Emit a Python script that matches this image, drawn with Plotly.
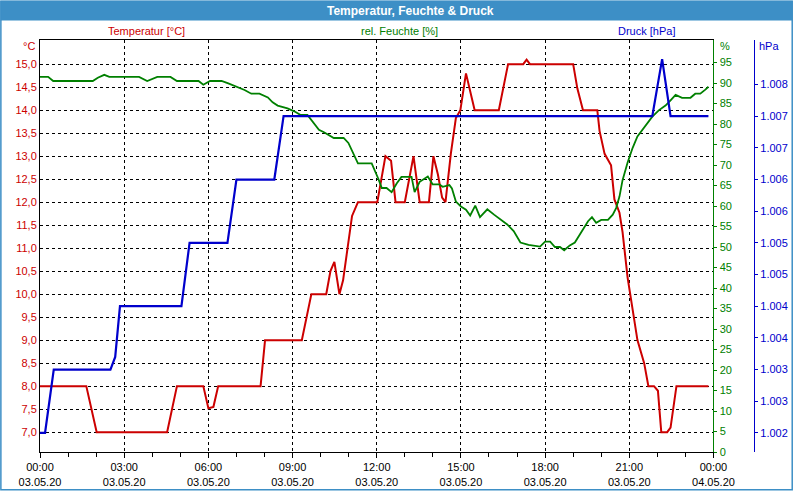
import plotly.graph_objects as go
import pandas as pd

# ---------------- data ----------------
START = "2020-05-03 00:00"

T_HOURS = [0, 1.65, 2.02, 4.53, 4.88, 5.82, 6.0, 6.18, 6.35, 7.86, 8.02, 9.33, 9.67, 10.2,
           10.35, 10.49, 10.67, 10.8, 11.12, 11.33, 12.02, 12.31, 12.51, 12.67, 13.0, 13.31,
           13.53, 13.86, 14.02, 14.18, 14.33, 14.45, 14.64, 14.82, 14.98, 15.18, 15.49, 16.35,
           16.68, 17.22, 17.34, 17.46, 19.0, 19.15, 19.35, 19.86, 19.94, 20.12, 20.35, 20.47,
           20.65, 20.76, 20.94, 21.06, 21.29, 21.53, 21.68, 21.88, 22.02, 22.14, 22.35, 22.47,
           22.68, 23.82]
T_VALUES = [8.0, 8.0, 7.0, 7.0, 8.0, 8.0, 7.52, 7.55, 8.0, 8.0, 9.0, 9.0, 10.0, 10.0,
            10.5, 10.7, 10.0, 10.3, 11.7, 12.0, 12.0, 13.0, 12.9, 12.0, 12.0, 13.0,
            12.0, 12.0, 13.0, 12.6, 12.1, 12.0, 13.05, 13.83, 14.0, 14.8, 14.0, 14.0,
            15.0, 15.0, 15.1, 15.0, 15.0, 14.47, 14.0, 14.0, 13.55, 13.05, 12.8, 12.06,
            11.77, 11.35, 10.36, 9.86, 9.0, 8.5, 8.0, 8.0, 7.9, 7.0, 7.0, 7.1,
            8.0, 8.0]

H_HOURS = [0, 0.29, 0.47, 1.88, 2.06, 2.29, 2.47, 3.53, 3.82, 4.18, 4.65, 4.88, 5.65, 5.82,
           6.06, 6.47, 6.71, 7.0, 7.29, 7.53, 7.82, 8.12, 8.29, 8.47, 8.82, 9.06, 9.29, 9.53,
           9.76, 9.94, 10.12, 10.47, 10.82, 10.99, 11.33, 11.82, 12.06, 12.18, 12.35, 12.53,
           12.71, 12.88, 13.24, 13.35, 13.53, 13.82, 13.99, 14.23, 14.35, 14.59, 14.68, 14.82,
           15.0, 15.18, 15.33, 15.51, 15.68, 15.94, 16.18, 16.41, 16.65, 16.88, 17.12, 17.41,
           17.82, 18.0, 18.18, 18.35, 18.53, 18.68, 18.88, 19.06, 19.24, 19.41, 19.53, 19.67,
           19.82, 20.0, 20.24, 20.41, 20.53, 20.65, 20.76, 20.94, 21.12, 21.29, 21.47, 21.65,
           21.82, 22.06, 22.29, 22.47, 22.65, 22.88, 23.18, 23.35, 23.53, 23.71, 23.82]
H_VALUES = [91.5, 91.5, 90.5, 90.5, 91.3, 92.0, 91.5, 91.5, 90.5, 91.5, 91.5, 90.5, 90.5, 89.6,
            90.5, 90.5, 89.9, 89.1, 88.3, 87.4, 87.4, 86.5, 85.3, 84.5, 83.8, 83.1, 82.2, 82.2,
            80.2, 78.6, 78.0, 76.6, 76.6, 75.4, 70.4, 70.4, 66.6, 64.4, 64.4, 63.4,
            65.5, 67.1, 67.1, 63.4, 65.9, 67.2, 65.3, 65.3, 64.7, 65.1, 64.3, 61.1,
            59.9, 59.1, 57.7, 60.1, 57.3, 59.2, 57.9, 56.7, 55.5, 53.9, 51.1, 50.5,
            50.1, 51.3, 51.3, 50.0, 50.0, 49.2, 50.4, 51.1, 53.1, 55.1, 56.3, 57.3,
            55.9, 56.6, 56.6, 57.9, 59.5, 62.3, 66.3, 70.6, 74.2, 77.0, 78.6, 80.2,
            81.8, 83.4, 84.5, 85.8, 87.1, 86.4, 86.4, 87.4, 87.4, 88.4, 89.1]

P_HOURS = [0, 0.18, 0.49, 2.51, 2.68, 2.85, 5.04, 5.33, 6.68, 7.0, 8.35, 8.68, 21.82, 22.17,
           22.47, 23.82]
P_VALUES = [1002, 1002, 1003, 1003, 1003.2, 1004, 1004, 1005, 1005, 1006, 1006, 1007, 1007,
            1007.9, 1007, 1007]

T_TICKS = [7.0, 7.5, 8.0, 8.5, 9.0, 9.5, 10.0, 10.5, 11.0, 11.5, 12.0, 12.5, 13.0, 13.5,
           14.0, 14.5, 15.0]
H_TICKS = list(range(0, 100, 5))
P_TICKS = [1002.0, 1002.5, 1003.0, 1003.5, 1004.0, 1004.5, 1005.0, 1005.5, 1006.0, 1006.5,
           1007.0, 1007.5]

TITLE = "Temperatur, Feuchte & Druck"
SERIES_NAMES = ["Temperatur [°C]", "rel. Feuchte [%]", "Druck [hPa]"]

# ---------------- styling ----------------
RED = "#cc0000"
GREEN = "#008000"
BLUE = "#0000cc"
BAR = "#3d8fc6"
FONT = "Liberation Sans"

W, H = 800, 500
ML, MR, MT, MB = 40, 30, 40, 39
PW = W - ML - MR          # paper width in px
PH = H - MT - MB          # paper height in px
X_RIGHT_PX = 720
X_DOM = (X_RIGHT_PX - ML) / PW
P_AXIS_PX = 761


def px_x(p):
    return (p - ML) / PW


def px_y(p):
    return (H - MB - p) / PH


t0 = pd.Timestamp(START)


def to_time(hours):
    return [t0 + pd.Timedelta(hours=h) for h in hours]


fig = go.Figure()
fig.add_trace(go.Scatter(x=to_time(H_HOURS), y=H_VALUES, mode="lines", yaxis="y2",
                         line=dict(color=GREEN, width=1.8), name=SERIES_NAMES[1]))
fig.add_trace(go.Scatter(x=to_time(T_HOURS), y=T_VALUES, mode="lines", yaxis="y",
                         line=dict(color=RED, width=2), name=SERIES_NAMES[0]))
fig.add_trace(go.Scatter(x=to_time(P_HOURS), y=P_VALUES, mode="lines", yaxis="y3",
                         line=dict(color=BLUE, width=2.2), name=SERIES_NAMES[2]))

tick_font = dict(family=FONT, size=11)

fig.update_layout(
    width=W, height=H,
    margin=dict(l=ML, r=MR, t=MT, b=MB),
    paper_bgcolor="white", plot_bgcolor="white",
    showlegend=False,
    separators=",.",
    font=dict(family=FONT, size=11, color="black"),
    xaxis=dict(
        domain=[0, X_DOM], type="date",
        range=[t0, t0 + pd.Timedelta(hours=24)],
        dtick=3 * 3600 * 1000, tick0=t0,
        tickformat="%H:%M<br>%d.%m.%y",
        showgrid=True, gridcolor="black", gridwidth=1, griddash="3px,3px",
        showline=True, linecolor="black", linewidth=1, mirror=True,
        ticks="outside", ticklen=5, tickcolor="black",
        minor=dict(dtick=3600 * 1000, ticks="outside", ticklen=4, tickcolor="black",
                   showgrid=False),
        tickfont=dict(family=FONT, size=11, color="black"),
        zeroline=False, fixedrange=True,
    ),
    yaxis=dict(
        range=[7 - 20.3 / 47, 15 + 24.7 / 47],
        tickvals=T_TICKS, tickformat=".1f",
        showgrid=True, gridcolor="black", gridwidth=1, griddash="3px,3px",
        showline=True, linecolor="black", linewidth=1,
        ticks="", tickfont=dict(family=FONT, size=11, color=RED),
        zeroline=False,
    ),
    yaxis2=dict(
        overlaying="y", side="right", anchor="x",
        range=[0, 100.5], tickvals=H_TICKS,
        showgrid=False, showline=True, linecolor=GREEN, linewidth=1,
        ticks="outside", ticklen=3, tickcolor=GREEN,
        tickfont=dict(family=FONT, size=11, color=GREEN),
        zeroline=False,
    ),
    yaxis3=dict(
        overlaying="y", side="right", anchor="free", position=px_x(P_AXIS_PX),
        range=[1002 - 19.5 / 64.73, 1002 + 401.5 / 64.73],
        tickvals=P_TICKS, tickformat=",.0f",
        showgrid=False, showline=True, linecolor=BLUE, linewidth=1,
        ticks="outside", ticklen=3, tickcolor=BLUE,
        tickfont=dict(family=FONT, size=11, color=BLUE),
        zeroline=False,
    ),
)

shapes = [
    # title bar
    dict(type="rect", xref="paper", yref="paper",
         x0=px_x(0), x1=px_x(W), y0=px_y(20), y1=px_y(0),
         fillcolor=BAR, line=dict(width=0), layer="below"),
    # outer border
    dict(type="rect", xref="paper", yref="paper",
         x0=px_x(0.5), x1=px_x(W - 0.5), y0=px_y(H - 0.5), y1=px_y(0.5),
         line=dict(color=BAR, width=1.5), fillcolor="rgba(0,0,0,0)"),
]
fig.update_layout(shapes=shapes)

ann = [
    dict(text="<b>" + TITLE + "</b>", x=px_x(414), y=px_y(10), xref="paper", yref="paper",
         showarrow=False, font=dict(family=FONT, size=12, color="white"),
         xanchor="center", yanchor="middle"),
    dict(text=SERIES_NAMES[0], x=px_x(148), y=px_y(31), xref="paper", yref="paper",
         showarrow=False, font=dict(family=FONT, size=11, color=RED),
         xanchor="center", yanchor="middle"),
    dict(text=SERIES_NAMES[1], x=px_x(403), y=px_y(31), xref="paper", yref="paper",
         showarrow=False, font=dict(family=FONT, size=11, color=GREEN),
         xanchor="center", yanchor="middle"),
    dict(text=SERIES_NAMES[2], x=px_x(652), y=px_y(31), xref="paper", yref="paper",
         showarrow=False, font=dict(family=FONT, size=11, color=BLUE),
         xanchor="center", yanchor="middle"),
    dict(text="°C", x=px_x(37), y=px_y(46), xref="paper", yref="paper",
         showarrow=False, font=dict(family=FONT, size=11, color=RED),
         xanchor="right", yanchor="middle"),
    dict(text="%", x=px_x(725), y=px_y(46), xref="paper", yref="paper",
         showarrow=False, font=dict(family=FONT, size=11, color=GREEN),
         xanchor="left", yanchor="middle"),
    dict(text="hPa", x=px_x(764), y=px_y(46), xref="paper", yref="paper",
         showarrow=False, font=dict(family=FONT, size=11, color=BLUE),
         xanchor="left", yanchor="middle"),
]
fig.update_layout(annotations=ann)

fig.write_html("out.html", config={"displayModeBar": False})
